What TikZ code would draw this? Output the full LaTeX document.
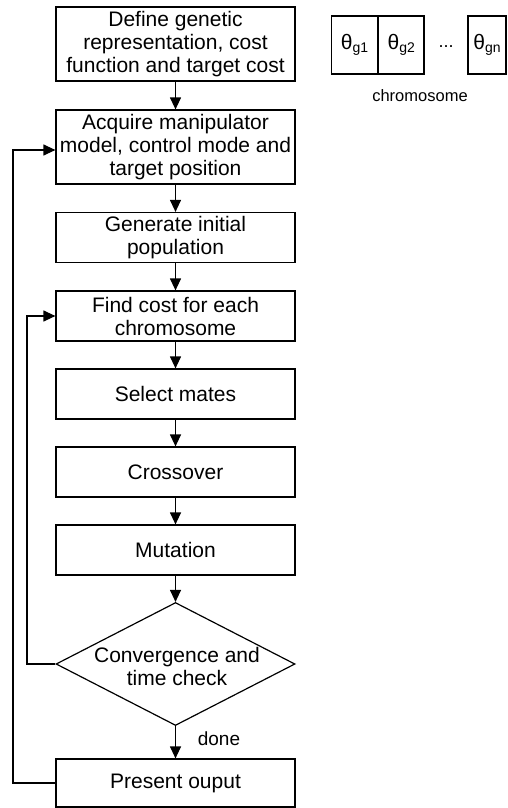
\documentclass[tikz,border=0pt]{standalone}
\usepackage{fontspec}
\setmainfont{Liberation Sans}
\usetikzlibrary{arrows.meta,shapes.geometric}

\tikzset{
  stepbox/.style={draw, line width=1.2pt, minimum width=239pt, inner sep=2pt,
    align=center, font=\fontsize{21}{23}\selectfont},
  decision/.style={draw, line width=1.2pt, diamond, minimum width=239pt, minimum height=123pt,
    shape aspect=1.943, inner sep=0pt},
  plaintext/.style={align=center, font=\fontsize{21}{23}\selectfont},
  gene/.style={draw, line width=1.2pt, minimum height=58pt, inner sep=0pt,
    font=\fontsize{21}{22}\selectfont},
  flow/.style={line width=1.2pt, -{Triangle[length=12pt,width=11pt]}},
  lbl/.style={font=\fontsize{16.5}{20}\selectfont}
}

\newcommand{\thetag}[1]{θ\raisebox{-2.5pt}{\fontsize{14}{16}\selectfont g#1}}

\begin{document}
\begin{tikzpicture}[x=1pt,y=-1pt]
\useasboundingbox (0,0) rectangle (507,808);

% main flow
\node[stepbox, minimum height=74pt] (def) at (175.5,44) {Define genetic\\representation, cost\\function and target cost};
\node[stepbox, minimum height=74pt] (acq) at (175.5,147) {Acquire manipulator\\model, control mode and\\target position};
\node[stepbox, minimum height=50pt] (gen) at (175.5,237.5) {Generate initial\\population};
\node[stepbox, minimum height=50pt] (cost) at (175.5,316) {Find cost for each\\chromosome};
\node[stepbox, minimum height=50pt] (sel) at (175.5,394) {Select mates};
\node[stepbox, minimum height=50pt] (cross) at (175.5,472) {Crossover};
\node[stepbox, minimum height=50pt] (mut) at (175.5,550) {Mutation};
\node[decision] (chk) at (175.5,664) {};
\node[plaintext] (chktext) at (177,666) {Convergence and\\time check};
\node[stepbox, minimum height=48pt] (out) at (175.5,783) {Present ouput};

\draw[flow] (def) -- (acq);
\draw[flow] (acq) -- (gen);
\draw[flow] (gen) -- (cost);
\draw[flow] (cost) -- (sel);
\draw[flow] (sel) -- (cross);
\draw[flow] (cross) -- (mut);
\draw[flow] (mut) -- (chk.north);
\draw[flow] (chk.south) -- (out);
\node[font=\fontsize{19}{22}\selectfont] (done) at (219,739) {done};

% feedback loops
\coordinate (innerx) at (27,0);
\coordinate (outerx) at (13,0);
\draw[flow] (chk.west) -- (chk.west -| innerx) -- (cost.west -| innerx) -- (cost.west);
\draw[flow] (out.west) -- (out.west -| outerx) -- ([yshift=-3pt]acq.west -| outerx) -- ([yshift=-3pt]acq.west);

% chromosome layout
\node[gene, minimum width=45.5pt] (g1) at (354.5,45) {\thetag{1}};
\node[gene, minimum width=45.5pt, anchor=west] (g2) at (g1.east) {\thetag{2}};
\node[font=\fontsize{18}{20}\selectfont] (dots) at (446,47) {...};
\node[gene, minimum width=38pt] (gn) at (487,45) {\thetag{n}};
\node[lbl] (chrom) at (420,96) {chromosome};
\end{tikzpicture}
\end{document}
